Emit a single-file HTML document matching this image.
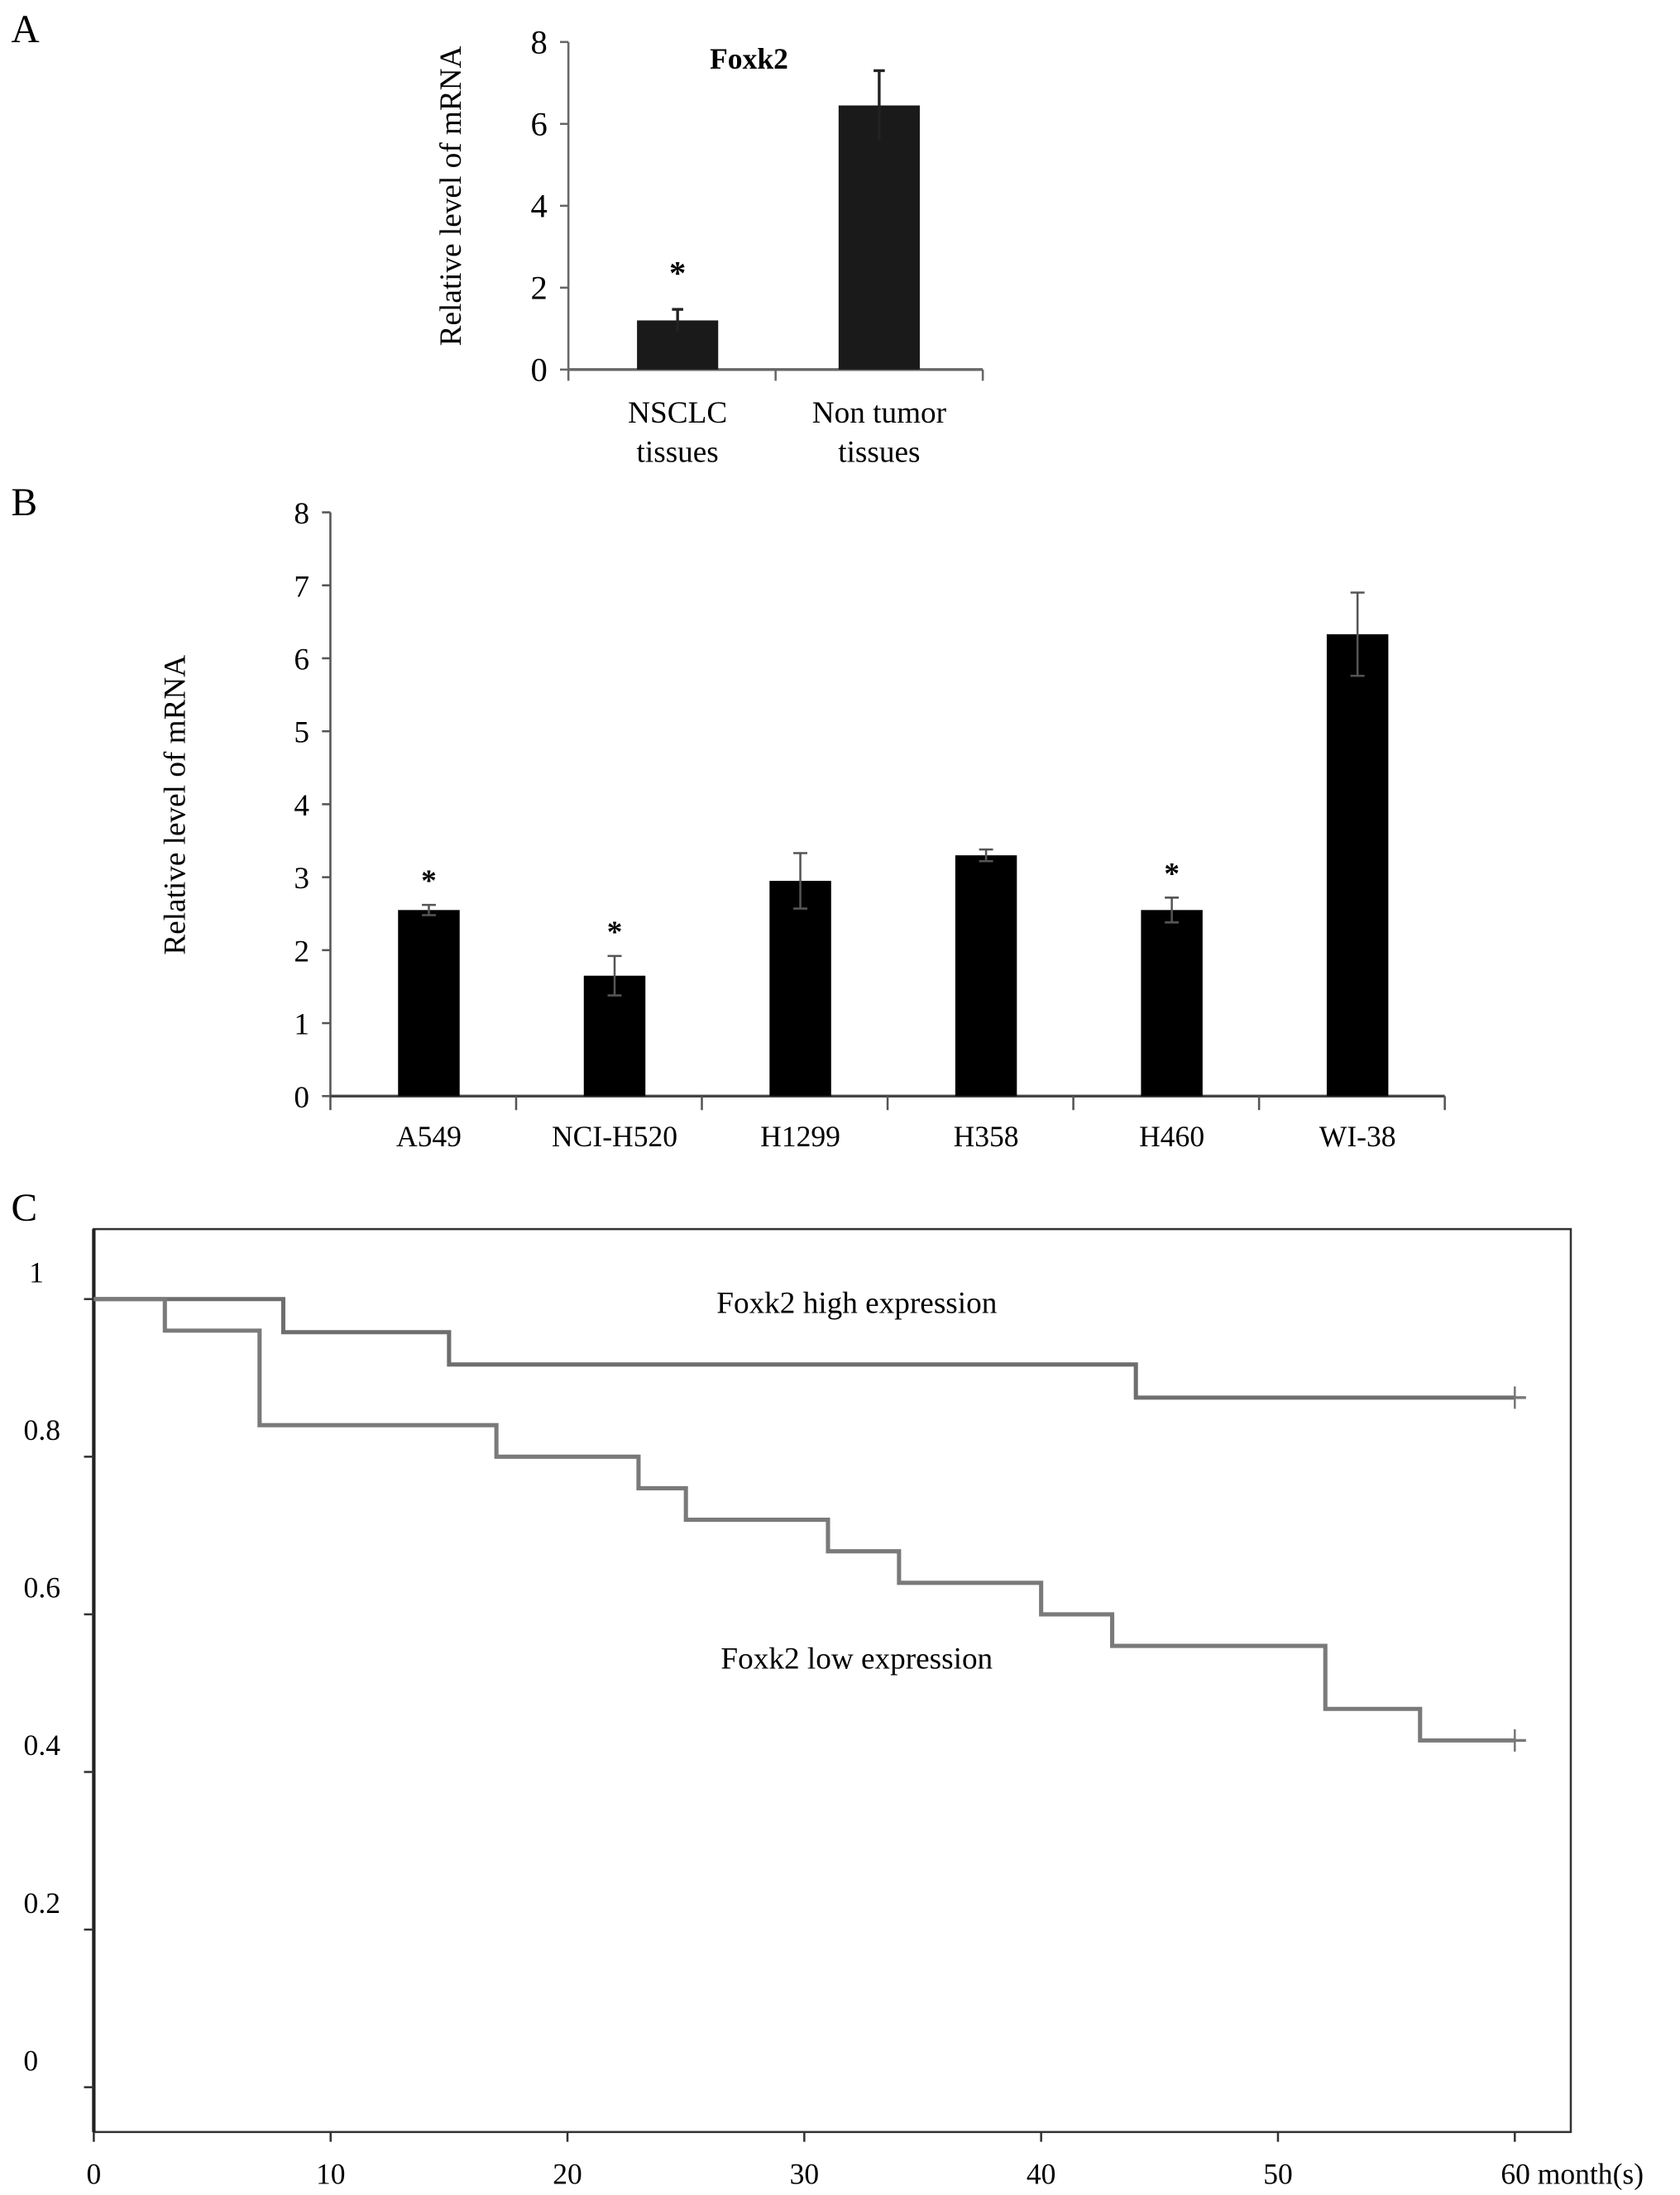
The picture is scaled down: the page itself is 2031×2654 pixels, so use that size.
<!DOCTYPE html>
<html><head><meta charset="utf-8"><style>
html,body{margin:0;padding:0;background:#fff;}
svg{display:block;font-family:"Liberation Serif",serif;}
</style></head><body>
<svg id="fig" width="2031" height="2654" viewBox="0 0 1200 1568" preserveAspectRatio="none" xmlns="http://www.w3.org/2000/svg">
<rect width="1200" height="1568" fill="#fff"/>
<text x="8" y="30" font-size="28">A</text>
<text x="8" y="368" font-size="28">B</text>
<text x="8" y="872" font-size="28">C</text>
<g id="pa"></g>
<g id="pb"></g>
<g id="pc"></g>
</svg>
<script>
const NS="http://www.w3.org/2000/svg";
// Panel A data
const aCats=["NSCLC|tissues","Non tumor|tissues"];
const aVals=[1.2,6.45];
const aErr=[0.27,0.85];
const aStar=[true,false];
const aTicks=[0,2,4,6,8];
// Panel B data
const bCats=["A549","NCI-H520","H1299","H358","H460","WI-38"];
const bVals=[2.55,1.65,2.95,3.3,2.55,6.33];
const bErr=[0.07,0.27,0.38,0.08,0.17,0.57];
const bStar=[true,true,false,false,true,false];
const bTicks=[0,1,2,3,4,5,6,7,8];
// Panel C data
const cTimesHigh=[0,8,15,44,60];
const cSurvHigh=[1,0.958,0.917,0.875,0.875];
const cTimesLow=[0,3,7,17,23,25,31,34,40,43,52,56,60];
const cSurvLow=[1,0.96,0.84,0.80,0.76,0.72,0.68,0.64,0.60,0.56,0.48,0.44,0.44];
const cYTicks=[0,0.2,0.4,0.6,0.8,1];
const cYLabels=["0","0.2","0.4","0.6","0.8","1"];
const cXTicks=[0,10,20,30,40,50,60];
const cXLabels=["0","10","20","30","40","50","60 month(s)"];

function mk(p,tag,attrs,txt){const e=document.createElementNS(NS,tag);for(const k in attrs)e.setAttribute(k,attrs[k]);if(txt!==undefined)e.textContent=txt;p.appendChild(e);return e;}

// ---- Panel A ----
(function(){
const g=document.getElementById('pa');
const x0=406,x1=702,y0=264,y8=30;
const y=v=>y0-(v/8)*(y0-y8);
const bw=(x1-x0)/aCats.length;
const cx=i=>x0+bw*(i+0.5)+(i?0:4);
mk(g,'line',{x1:x0,y1:y8,x2:x0,y2:y0+8,stroke:'#666','stroke-width':1.5});
mk(g,'line',{x1:x0,y1:y0,x2:x1,y2:y0,stroke:'#666','stroke-width':2});
aCats.forEach((c,i)=>{mk(g,'line',{x1:x0+bw*(i+1),y1:y0,x2:x0+bw*(i+1),y2:y0+8,stroke:'#666','stroke-width':1.5});});
aTicks.forEach(t=>{
 mk(g,'line',{x1:x0-6,y1:y(t),x2:x0,y2:y(t),stroke:'#666','stroke-width':1.5});
 const tx=mk(g,'text',{x:x0-15,y:y(t)+8,'font-size':24,'text-anchor':'end'},String(t));
 
 
});
aVals.forEach((v,i)=>{
 const r=mk(g,'rect',{x:cx(i)-29,y:y(v),width:58,height:y0-y(v),fill:'#1a1a1a'});
 
 
 mk(g,'line',{x1:cx(i),y1:y(v-aErr[i]),x2:cx(i),y2:y(v+aErr[i]),stroke:'#222','stroke-width':2});
 mk(g,'line',{x1:cx(i)-4,y1:y(v+aErr[i]),x2:cx(i)+4,y2:y(v+aErr[i]),stroke:'#222','stroke-width':2});
 if(aStar[i]){const s=mk(g,'text',{x:cx(i),y:y(v+aErr[i])-18,'font-size':24,'text-anchor':'middle','font-weight':'bold'},'*');
  
  }
 const parts=aCats[i].split('|');
 parts.forEach((p,k)=>{const t=mk(g,'text',{x:cx(i),y:302+28*k,'font-size':22,'text-anchor':'middle'},p);
  
  });
});
const tt=mk(g,'text',{x:535,y:49,'font-size':21,'font-weight':'bold','text-anchor':'middle'},'Foxk2');


const yl=mk(g,'text',{x:0,y:0,'font-size':22,'text-anchor':'middle',transform:'translate(329,140) rotate(-90)'},'Relative level of mRNA');


})();

// ---- Panel B ----
(function(){
const g=document.getElementById('pb');
const x0=236,x1=1032,y0=783,y8=366;
const y=v=>y0-(v/8)*(y0-y8);
const bw=(x1-x0)/bCats.length;
const cx=i=>x0+bw*(i+0.5)+4;
mk(g,'line',{x1:x0,y1:y8,x2:x0,y2:y0+10,stroke:'#555','stroke-width':1.5});
mk(g,'line',{x1:x0,y1:y0,x2:x1,y2:y0,stroke:'#444','stroke-width':2});
bCats.forEach((c,i)=>{mk(g,'line',{x1:x0+bw*(i+1),y1:y0,x2:x0+bw*(i+1),y2:y0+10,stroke:'#555','stroke-width':1.5});});
bTicks.forEach(t=>{
 mk(g,'line',{x1:x0-6,y1:y(t),x2:x0,y2:y(t),stroke:'#555','stroke-width':1.5});
 const tx=mk(g,'text',{x:x0-15,y:y(t)+8,'font-size':22,'text-anchor':'end'},String(t));
 
 
});
bVals.forEach((v,i)=>{
 const r=mk(g,'rect',{x:cx(i)-22,y:y(v),width:44,height:y0-y(v),fill:'#000'});
 
 
 mk(g,'line',{x1:cx(i),y1:y(v-bErr[i]),x2:cx(i),y2:y(v+bErr[i]),stroke:'#555','stroke-width':1.5});
 mk(g,'line',{x1:cx(i)-5,y1:y(v+bErr[i]),x2:cx(i)+5,y2:y(v+bErr[i]),stroke:'#555','stroke-width':1.5});
 mk(g,'line',{x1:cx(i)-5,y1:y(v-bErr[i]),x2:cx(i)+5,y2:y(v-bErr[i]),stroke:'#555','stroke-width':1.5});
 if(bStar[i]){const s=mk(g,'text',{x:cx(i),y:y(v+bErr[i])-10,'font-size':22,'text-anchor':'middle','font-weight':'bold'},'*');
  
  }
 const t=mk(g,'text',{x:cx(i),y:819,'font-size':21,'text-anchor':'middle'},bCats[i]);
 
 
});
const yl=mk(g,'text',{x:0,y:0,'font-size':22,'text-anchor':'middle',transform:'translate(132,575) rotate(-90)'},'Relative level of mRNA');


})();

// ---- Panel C ----
(function(){
const g=document.getElementById('pc');
const L=67,T=878,R=1122,B=1523;
const x=t=>L+t*(1082-L)/60;
const y=s=>1491-s*(1491-928);
mk(g,'rect',{x:L,y:T,width:R-L,height:B-T,fill:'none',stroke:'#333','stroke-width':1.5});
mk(g,'line',{x1:L,y1:T,x2:L,y2:B,stroke:'#222','stroke-width':2.5});
cYTicks.forEach((t,i)=>{
 mk(g,'line',{x1:L-7,y1:y(t),x2:L,y2:y(t),stroke:'#333','stroke-width':1.5});
 const tx=mk(g,'text',{x:[22,30,30,30,30,26][i],y:y(t)-12,'font-size':21,'text-anchor':'middle'},cYLabels[i]);
 
 
});
cXTicks.forEach((t,i)=>{
 mk(g,'line',{x1:x(t),y1:B,x2:x(t),y2:B+7,stroke:'#333','stroke-width':1.5});
 const tx=mk(g,'text',{x:x(t),y:1560,'font-size':21,'text-anchor':i===6?'start':'middle'},cXLabels[i]);
 if(i===6)tx.setAttribute('x',x(t)-10);
 
 
});
function step(ts,ss){let d='M'+x(ts[0])+','+y(ss[0]);for(let i=1;i<ts.length;i++){d+=' H'+x(ts[i])+' V'+y(ss[i]);}return d;}
const hp=mk(g,'path',{d:step(cTimesHigh,cSurvHigh),fill:'none',stroke:'#6e6e6e','stroke-width':3});


const lp=mk(g,'path',{d:step(cTimesLow,cSurvLow),fill:'none',stroke:'#7a7a7a','stroke-width':3});


[[cTimesHigh,cSurvHigh],[cTimesLow,cSurvLow]].forEach(([ts,ss])=>{
 const t=ts[ts.length-1],s=ss[ss.length-1];
 mk(g,'line',{x1:x(t),y1:y(s)-8,x2:x(t),y2:y(s)+8,stroke:'#777','stroke-width':1.5});
 mk(g,'line',{x1:x(t),y1:y(s),x2:x(t)+8,y2:y(s),stroke:'#777','stroke-width':2});
});
const a=mk(g,'text',{x:612,y:938,'font-size':22,'text-anchor':'middle'},'Foxk2 high expression');


const b=mk(g,'text',{x:612,y:1192,'font-size':22,'text-anchor':'middle'},'Foxk2 low expression');


})();
</script>
</body></html>
